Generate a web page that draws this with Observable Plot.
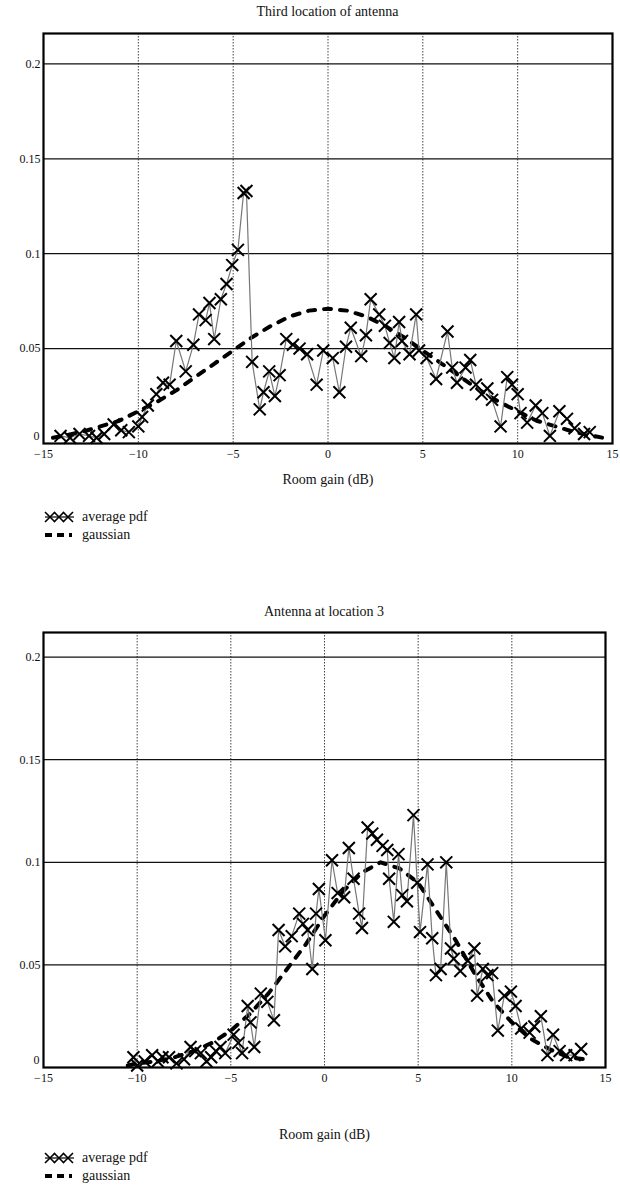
<!DOCTYPE html>
<html><head><meta charset="utf-8">
<script src="https://cdn.jsdelivr.net/npm/d3@7"></script>
<script src="https://cdn.jsdelivr.net/npm/@observablehq/plot@0.6"></script>
<style>
body{margin:0;background:#fff;font-family:"Liberation Serif","DejaVu Serif",serif;color:#111;}
#page{position:relative;width:620px;height:1192px;overflow:hidden;background:#fff;}
.title{position:absolute;left:43px;width:569px;text-align:center;font-size:14px;line-height:16px;font-family:"Liberation Serif","DejaVu Serif",serif;}
.chart{position:absolute;left:0;}
.chart text{font-family:"Liberation Serif","DejaVu Serif",serif !important;}
.chart g[aria-label="x-axis label"] text{font-size:14px;}
.legend{position:absolute;left:44px;font-size:14px;font-family:"Liberation Serif","DejaVu Serif",serif;}
.legend .row{display:flex;align-items:center;height:18px;}
.legend svg{margin-right:6px;}
</style></head><body><div id="page"></div>
<script>
// ---------- data ----------
const titles = ["Third location of antenna", "Antenna at location 3"];
const xLabel = "Room gain (dB)";
const seriesNames = ["average pdf", "gaussian"];
const xTicks = [-15, -10, -5, 0, 5, 10, 15];
const yTicks = [0, 0.05, 0.1, 0.15, 0.2];

// chart 1: average pdf
const avg1X = [-14.1,-13.6,-13.1,-12.6,-12.2,-11.8,-11.3,-10.9,-10.5,-10.0,-9.8,-9.5,-9.05,-8.7,-8.35,-8.0,-7.5,-7.1,-6.8,-6.45,-6.25,-6.0,-5.65,-5.35,-5.05,-4.75,-4.45,-4.3,-4.0,-3.6,-3.4,-3.1,-2.8,-2.55,-2.2,-1.85,-1.5,-1.1,-0.6,-0.25,0.25,0.6,0.95,1.2,1.75,2.0,2.25,2.7,3.0,3.25,3.5,3.75,3.9,4.3,4.65,4.8,5.2,5.7,6.3,6.55,6.8,7.25,7.5,7.8,8.1,8.4,8.65,9.1,9.45,9.7,10.0,10.15,10.5,10.95,11.3,11.7,12.2,12.6,13.0,13.5,13.8];
const avg1Y = [0.004,0.003,0.005,0.004,0.003,0.005,0.010,0.007,0.006,0.009,0.014,0.020,0.026,0.032,0.031,0.054,0.038,0.052,0.068,0.065,0.074,0.055,0.076,0.084,0.094,0.102,0.132,0.133,0.043,0.018,0.027,0.038,0.025,0.036,0.055,0.052,0.050,0.047,0.031,0.049,0.045,0.027,0.051,0.061,0.046,0.057,0.076,0.068,0.062,0.053,0.045,0.064,0.054,0.047,0.068,0.049,0.045,0.034,0.059,0.040,0.032,0.040,0.044,0.031,0.026,0.029,0.023,0.009,0.035,0.031,0.026,0.016,0.011,0.020,0.016,0.004,0.017,0.013,0.008,0.005,0.006];
// chart 1: gaussian
const gau1X = [-14.5,-14,-13,-12,-11,-10,-9,-8,-7,-6,-5,-4,-3,-2,-1,0,1,2,3,4,5,6,7,8,9,10,11,12,13,14,14.5];
const gau1Y = [0.003,0.004,0.006,0.009,0.012,0.017,0.022,0.028,0.035,0.042,0.049,0.056,0.062,0.067,0.070,0.071,0.070,0.067,0.062,0.056,0.049,0.042,0.035,0.028,0.022,0.017,0.012,0.009,0.006,0.004,0.003];

// chart 2: average pdf
const avg2X = [-10.2,-10.0,-9.6,-9.2,-8.9,-8.65,-8.3,-7.9,-7.5,-7.15,-6.9,-6.6,-6.3,-6.05,-5.8,-5.55,-5.3,-4.85,-4.6,-4.4,-4.1,-3.95,-3.75,-3.4,-3.05,-2.7,-2.45,-2.1,-1.75,-1.35,-1.15,-0.9,-0.65,-0.45,-0.3,0.05,0.4,0.7,1.05,1.3,1.55,1.85,2.0,2.3,2.55,2.8,3.1,3.35,3.45,3.7,3.95,4.15,4.4,4.75,4.95,5.1,5.5,5.75,5.95,6.2,6.5,6.75,6.9,7.25,7.65,8.0,8.15,8.45,8.7,8.95,9.25,9.6,9.95,10.2,10.5,10.95,11.2,11.55,11.9,12.2,12.55,12.9,13.35,13.7];
const avg2Y = [0.005,0.001,0.003,0.006,0.003,0.005,0.005,0.002,0.004,0.010,0.008,0.007,0.003,0.005,0.008,0.010,0.007,0.016,0.012,0.007,0.030,0.022,0.010,0.036,0.032,0.023,0.067,0.059,0.064,0.075,0.070,0.067,0.048,0.075,0.087,0.062,0.101,0.085,0.083,0.107,0.092,0.075,0.068,0.117,0.114,0.111,0.108,0.106,0.092,0.071,0.104,0.084,0.081,0.123,0.090,0.066,0.099,0.063,0.045,0.048,0.100,0.058,0.053,0.047,0.052,0.058,0.035,0.048,0.045,0.046,0.018,0.035,0.037,0.030,0.019,0.017,0.020,0.025,0.006,0.016,0.008,0.006,0.006,0.009];
// chart 2: gaussian
const gau2X = [-10.5,-10,-9,-8,-7,-6,-5,-4,-3,-2,-1,0,1,2,3,4,5,6,7,8,9,10,11,12,13,13.9];
const gau2Y = [0.001,0.002,0.003,0.005,0.008,0.012,0.018,0.026,0.036,0.048,0.060,0.074,0.086,0.095,0.100,0.097,0.090,0.076,0.062,0.046,0.032,0.022,0.014,0.009,0.005,0.004];

// ---------- layout ----------
const page = document.getElementById("page");
const toRows = (xs, ys) => xs.map((x, i) => ({x, y: ys[i]}));
const fmtX = d => d < 0 ? "\u2212" + Math.abs(d) : String(d);
const fmtY = d => String(+d.toFixed(2));

function chart(cfg) {
  const t = document.createElement("div");
  t.className = "title"; t.style.top = cfg.titleTop + "px"; t.style.left = cfg.ml + "px";
  t.style.width = (620 - cfg.ml - cfg.mr) + "px";
  t.textContent = cfg.title;
  page.appendChild(t);

  const avg = toRows(cfg.ax, cfg.ay);
  const gau = toRows(cfg.gx, cfg.gy);
  const p = Plot.plot({
    width: 620, height: cfg.height,
    marginTop: cfg.mt, marginBottom: cfg.mb, marginLeft: cfg.ml, marginRight: cfg.mr,
    style: {fontFamily: "'Liberation Serif','DejaVu Serif',serif", fontSize: "12px", color: "#111", background: "transparent", overflow: "visible"},
    x: {domain: [-15, 15]},
    y: {domain: [0, cfg.ymax]},
    marks: [
      Plot.gridX(xTicks.slice(1, -1), {stroke: "#444", strokeOpacity: 1, strokeWidth: 1, strokeDasharray: "1.5,1.5"}),
      Plot.gridY(yTicks.slice(1), {stroke: "#111", strokeOpacity: 1, strokeWidth: 1.2}),
      Plot.axisX(xTicks, {tickSize: 0, tickPadding: 6, tickFormat: fmtX, label: xLabel, labelAnchor: "center", labelOffset: cfg.labelOffset, labelArrow: "none"}),
      Plot.axisY(yTicks.slice(1), {tickSize: 0, tickPadding: 3, tickFormat: fmtY, label: null}),
      Plot.axisY([0], {tickSize: 0, tickPadding: 4, tickFormat: fmtY, label: null, dy: -7}),
      Plot.line(gau, {x: "x", y: "y", stroke: "#000", strokeWidth: 4, strokeDasharray: "7,9"}),
      Plot.line(avg, {x: "x", y: "y", stroke: "#777", strokeWidth: 1.2}),
      Plot.dot(avg, {x: "x", y: "y", symbol: "times", r: 5.5, stroke: "#000", strokeWidth: 2}),
      Plot.frame({stroke: "#000", strokeWidth: 2.2})
    ]
  });
  p.classList.add("chart");
  p.style.top = cfg.top + "px";
  page.appendChild(p);

  // legend
  const lg = document.createElement("div");
  lg.className = "legend"; lg.style.top = cfg.legendTop + "px";
  const r1 = document.createElement("div"); r1.className = "row";
  const s1 = d3.create("svg").attr("width", 32).attr("height", 14);
  s1.append("line").attr("x1", 1).attr("x2", 30).attr("y1", 7).attr("y2", 7).attr("stroke", "#000").attr("stroke-width", 1.2);
  [6, 15, 24].forEach(cx => s1.append("path").attr("d", `M${cx-5},${2}L${cx+5},${12}M${cx+5},${2}L${cx-5},${12}`).attr("stroke", "#000").attr("stroke-width", 1.6).attr("fill", "none"));
  r1.appendChild(s1.node());
  r1.appendChild(document.createTextNode(seriesNames[0]));
  const r2 = document.createElement("div"); r2.className = "row";
  const s2 = d3.create("svg").attr("width", 32).attr("height", 14);
  s2.append("line").attr("x1", 1).attr("x2", 30).attr("y1", 7).attr("y2", 7).attr("stroke", "#000").attr("stroke-width", 4).attr("stroke-dasharray", "7,5,7,5,3,20");
  r2.appendChild(s2.node());
  r2.appendChild(document.createTextNode(seriesNames[1]));
  lg.appendChild(r1); lg.appendChild(r2);
  page.appendChild(lg);
}

chart({title: titles[0], titleTop: 4, top: 25, height: 480, mt: 8, mb: 62, ml: 43, mr: 8, ymax: 0.216, labelOffset: 40,
  ax: avg1X, ay: avg1Y, gx: gau1X, gy: gau1Y, legendTop: 508});
chart({title: titles[1], titleTop: 604, top: 620, height: 530, mt: 12, mb: 83, ml: 43, mr: 15, ymax: 0.212, labelOffset: 71,
  ax: avg2X, ay: avg2Y, gx: gau2X, gy: gau2Y, legendTop: 1149});
</script></body></html>
